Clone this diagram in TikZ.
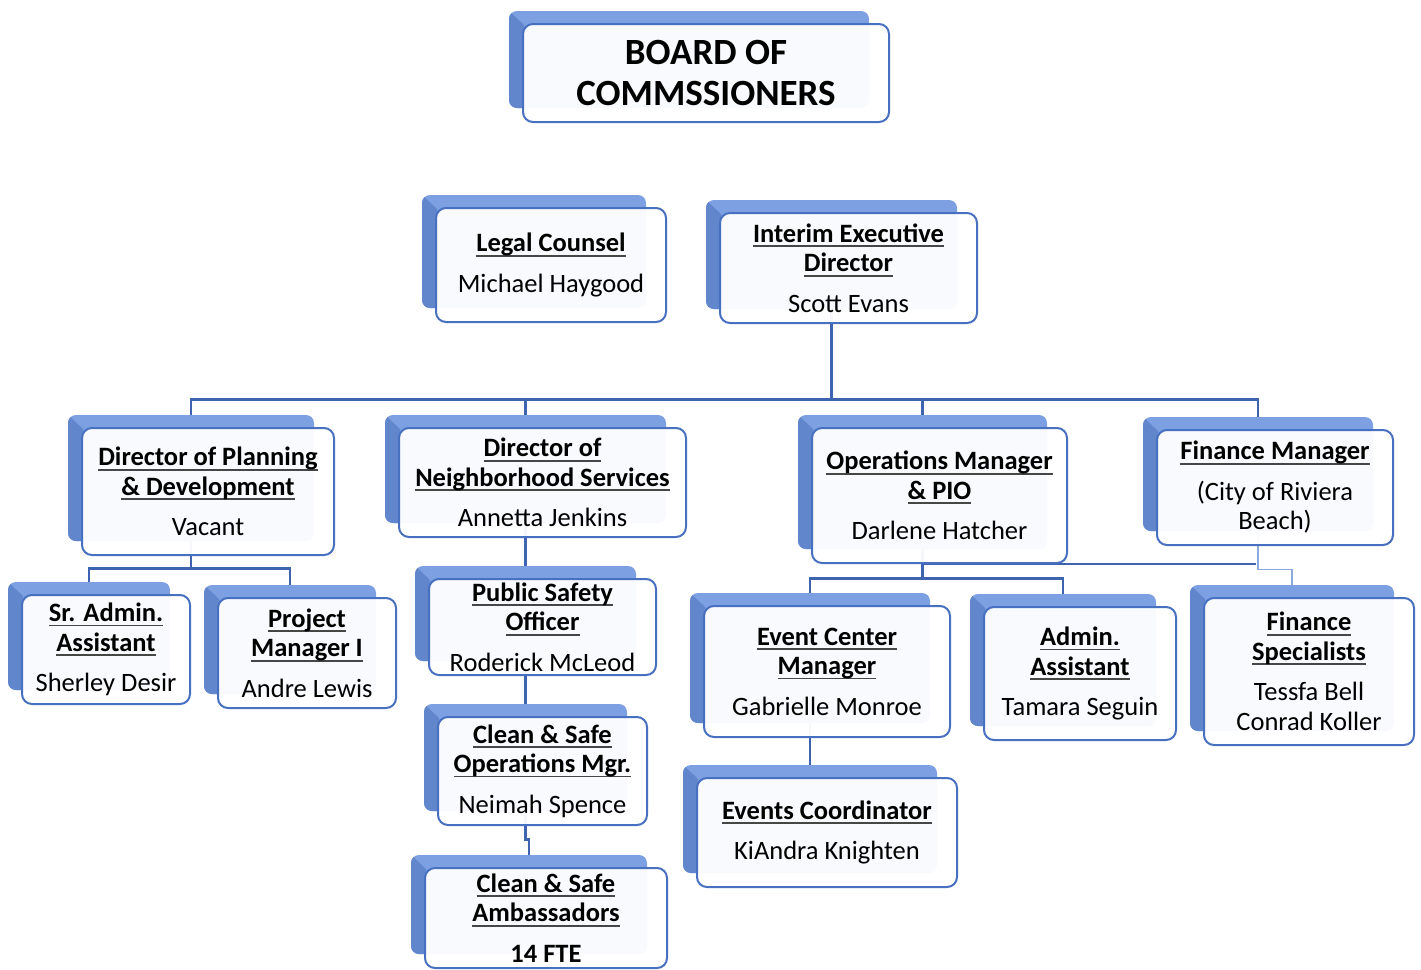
\documentclass[tikz,border=0pt]{standalone}
\usepackage{fontspec}
\setmainfont{Carlito}
\usetikzlibrary{backgrounds}
\definecolor{conncol}{RGB}{62,100,175}
\definecolor{thincol}{RGB}{140,170,222}
\definecolor{frontdraw}{RGB}{72,112,192}
\definecolor{backtop}{RGB}{124,160,225}
\definecolor{bevelc}{RGB}{98,134,204}
\definecolor{ulcol}{RGB}{70,70,70}
\newcommand\myul[1]{\setbox0=\hbox{#1}\rlap{\textcolor{ulcol}{\rule[-2.4pt]{\wd0}{0.9pt}}}\box0}
\newcommand\ttl[1]{\textbf{\myul{#1}}}
\tikzset{
  conn/.style={draw=conncol, line width=1.4pt},
  thinconn/.style={draw=thincol, line width=0.6pt},
  backbox/.style={fill=backtop, rounded corners=4pt, inner sep=0pt, draw=none},
  frontbox/.style={draw=frontdraw, line width=1pt, rounded corners=5pt, fill=white,
    fill opacity=0.95, text opacity=1, align=center, inner sep=0pt, text=black,
    font=\fontsize{13.25}{14.75}\selectfont},
  boardtext/.style={font=\fontsize{18.5}{20.5}\selectfont\bfseries}
}
% [style] name x1 y1 x2 y2 text
\newcommand\orgbox[7][]{%
  \node[backbox, minimum width={(#5-#3-6)*0.5pt}, minimum height={(#6-#4-1)*0.5pt}]
     (#2b) at ({(#3+#5)/2-17},{(#4+#6)/2-13.5}) {};
  \begin{scope}
    \clip[rounded corners=4pt] (#3-14,#4-13) rectangle (#5-20,#6-14);
    \fill[bevelc] (#3-15,#4-14) -- (#3+1,#4+1) -- (#3+1,#6) -- (#3-15,#6) -- cycle;
  \end{scope}
  \node[frontbox, #1, minimum width={(#5-#3)*0.5pt}, minimum height={(#6-#4)*0.5pt}]
     (#2) at ({(#3+#5)/2},{(#4+#6)/2}) {#7};
}
\begin{document}
\begin{tikzpicture}[x=0.5pt, y=-0.5pt]
\useasboundingbox (0,0) rectangle (1421,970);

\orgbox[boardtext]{board}{523}{24}{889}{122}{BOARD OF\\COMMSSIONERS}
\orgbox{legal}{436}{208}{666}{322}{\ttl{Legal Counsel}\\[5.5pt]Michael Haygood}
\orgbox{exec}{720}{213}{977}{323}{\ttl{Interim Executive}\\\ttl{Director}\\[5.5pt]Scott Evans}
\orgbox{plan}{82}{428}{334}{555}{\ttl{Director of Planning}\\\ttl{\& Development}\\[5.5pt]Vacant}
\orgbox{neigh}{399}{428}{686}{537}{\ttl{Director of}\\\ttl{Neighborhood Services}\\[5.5pt]Annetta Jenkins}
\orgbox{ops}{812}{428}{1067}{563}{\ttl{Operations Manager}\\\ttl{\& PIO}\\[5.5pt]Darlene Hatcher}
\orgbox{finmgr}{1157}{430}{1393}{545}{\ttl{Finance Manager}\\[5.5pt](City of Riviera\\Beach)}
\orgbox{sra}{22}{595}{190}{704}{\ttl{Sr. Admin.}\\\ttl{Assistant}\\[5.5pt]Sherley Desir}
\orgbox{pm}{218}{598}{396}{708}{\ttl{Project}\\\ttl{Manager I}\\[5.5pt]Andre Lewis}
\orgbox{pso}{429}{579}{656}{675}{\ttl{Public Safety}\\\ttl{Officer}\\[5.5pt]Roderick McLeod}
\orgbox{cso}{438}{717}{647}{825}{\ttl{Clean \& Safe}\\\ttl{Operations Mgr.}\\[5.5pt]Neimah Spence}
\orgbox{amb}{425}{868}{667}{968}{\ttl{Clean \& Safe}\\\ttl{Ambassadors}\\[5.5pt]\textbf{14 FTE}}
\orgbox{evc}{704}{606}{950}{737}{\ttl{Event Center}\\\ttl{Manager}\\[5.5pt]Gabrielle Monroe}
\orgbox{adm}{984}{607}{1176}{740}{\ttl{Admin.}\\\ttl{Assistant}\\[5.5pt]Tamara Seguin}
\orgbox{fsp}{1204}{598}{1414}{745}{\ttl{Finance}\\\ttl{Specialists}\\[5.5pt]Tessfa Bell\\Conrad Koller}
\orgbox{evco}{697}{778}{957}{887}{\ttl{Events Coordinator}\\[5.5pt]KiAndra Knighten}

\begin{scope}[on background layer]
  \fill[white] (0,0) rectangle (1421,970);
  \draw[conn] (execb.south) -- ++(0,90) coordinate (bus);
  \draw[conn] (bus) -| (planb.north);
  \draw[conn] (bus) -| (neighb.north);
  \draw[conn] (bus) -| (opsb.north);
  \draw[conn] (bus) -| (finmgrb.north);
  \draw[conn] (planb.south) -- ++(0,27) coordinate (planbus);
  \draw[conn] (planbus) -| (srab.north);
  \draw[conn] (planbus) -| (pmb.north);
  \draw[conn] (neighb.south) -- (psob.north);
  \draw[conn] (psob.south) -- (csob.north);
  \draw[conn] (csob.south) -- ++(0,28) -| (ambb.north);
  \draw[conn] (opsb.south) -- ++(0,29) coordinate (opsbus);
  \draw[conn] (opsbus) -| (evcb.north);
  \draw[conn] (opsbus) -| (admb.north);
  \coordinate (fsjoin) at (1256,564);
  \draw[conn] (opsb.south) |- (fsjoin);
  \draw[thinconn] (finmgrb.south) -- ++(0,38) -| (fspb.north);
  \draw[conn] (evcb.south) -- (evcob.north);
\end{scope}
\end{tikzpicture}
\end{document}
